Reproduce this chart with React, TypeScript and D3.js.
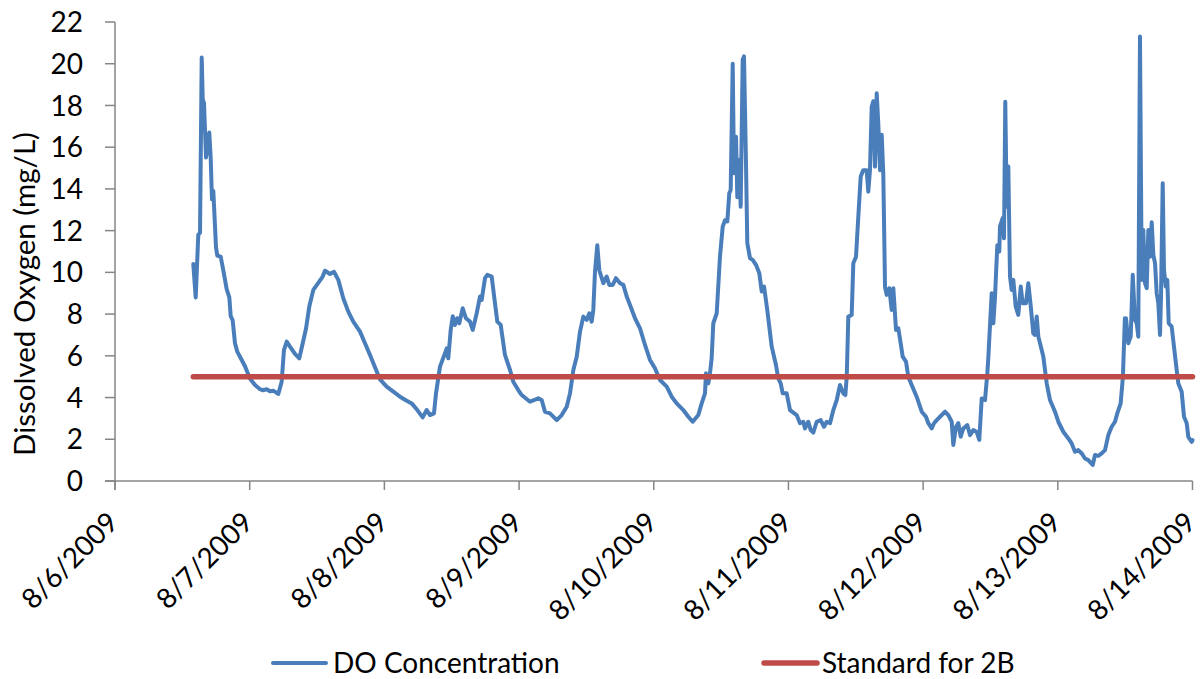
import React from "react";
import * as d3 from "d3";

// Hours since 8/6/2009 00:00 for each DO reading
const doHours = [
  13.95, 14.38, 14.84, 15.15, 15.45, 15.63, 15.86, 16.22, 16.8, 17.05, 17.28, 17.52, 18.0, 18.23, 18.83, 19.3,
  19.9, 20.37, 20.62, 20.97, 21.38, 21.79, 22.58, 23.16, 24.06, 24.95, 25.84, 26.37, 27.03, 27.62, 28.21, 28.69,
  29.1, 29.7, 30.11, 30.6, 31.18, 32.07, 32.84, 33.45, 34.03, 34.62, 35.34, 36.23, 37.01, 37.42, 38.31, 39.02,
  39.79, 40.68, 41.57, 42.46, 43.66, 44.55, 45.44, 46.33, 47.22, 48.41, 49.59, 50.78, 51.98, 52.87, 53.87, 54.83,
  55.54, 56.13, 56.84, 57.2, 57.91, 58.8, 59.11, 59.39, 59.82, 60.18, 60.58, 60.99, 61.35, 61.96, 62.54, 63.26,
  63.74, 64.45, 65.04, 65.34, 65.93, 66.34, 67.12, 67.71, 68.12, 68.73, 69.49, 70.39, 70.97, 71.86, 72.47, 73.95,
  75.43, 76.03, 76.62, 77.51, 78.71, 79.6, 80.49, 81.08, 81.67, 82.27, 82.86, 83.45, 84.05, 84.52, 84.94, 85.23,
  85.53, 85.94, 86.3, 87.01, 87.62, 88.08, 88.69, 89.27, 89.99, 90.58, 91.18, 91.77, 92.66, 93.55, 94.44, 95.33,
  96.22, 97.11, 98.31, 99.2, 100.09, 101.27, 102.16, 102.94, 103.94, 104.54, 105.13, 105.31, 105.72, 106.02, 106.32, 106.61,
  107.22, 107.8, 108.29, 108.7, 109.11, 109.46, 109.71, 110.07, 110.3, 110.66, 110.89, 111.24, 111.49, 111.85, 112.08, 112.44,
  112.67, 113.15, 113.63, 114.22, 114.81, 115.24, 115.65, 116.23, 117.02, 117.78, 118.19, 118.62, 118.98, 119.69, 120.28, 121.47,
  122.06, 122.65, 122.95, 123.54, 123.97, 124.43, 125.04, 125.75, 126.34, 126.82, 127.41, 128.0, 128.6, 129.19, 129.78, 130.14,
  130.39, 130.67, 131.27, 131.56, 132.04, 132.45, 132.88, 133.34, 133.94, 134.23, 134.53, 134.84, 135.12, 135.42, 135.73, 136.01,
  136.32, 136.62, 136.9, 137.21, 137.51, 137.97, 138.4, 138.69, 139.17, 139.58, 140.0, 140.36, 140.95, 141.36, 141.96, 142.85,
  143.75, 144.51, 144.92, 145.53, 145.94, 146.42, 147.01, 147.9, 148.49, 149.09, 149.38, 149.86, 150.27, 150.7, 151.16, 151.87,
  152.35, 152.94, 153.54, 154.01, 154.44, 155.03, 155.44, 155.61, 156.22, 156.51, 156.81, 157.22, 157.57, 157.7, 158.18, 158.41,
  158.64, 158.89, 159.18, 159.48, 159.78, 160.07, 160.5, 160.96, 161.39, 161.74, 162.33, 162.74, 163.17, 163.63, 163.93, 164.24,
  164.53, 165.13, 165.42, 166.02, 166.61, 167.5, 168.09, 168.98, 169.87, 170.47, 171.06, 171.65, 172.26, 172.84, 173.43, 174.22,
  174.63, 175.21, 175.82, 176.41, 177.0, 177.6, 178.19, 178.6, 179.2, 179.6, 179.95, 180.15, 180.56, 180.99, 181.35, 181.75,
  182.06, 182.34, 182.64, 182.95, 183.23, 183.54, 183.84, 184.13, 184.43, 184.73, 185.02, 185.32, 185.62, 185.91, 186.21, 186.39,
  186.69, 186.92, 187.23, 187.51, 187.76, 188.29, 188.7, 189.18, 189.47, 190.07, 190.49, 190.97, 191.25, 191.86, 192.0,
];

// Dissolved oxygen (mg/L)
const doValues = [
  10.4, 8.8, 11.8, 11.9, 20.3, 18.3, 18.1, 15.5, 16.7, 15.5, 13.5, 13.9, 11.2, 10.8, 10.75, 10.1,
  9.2, 8.8, 7.9, 7.7, 6.6, 6.2, 5.8, 5.5, 4.9, 4.6, 4.4, 4.35, 4.4, 4.3, 4.33, 4.25,
  4.17, 4.76, 6.28, 6.68, 6.44, 6.09, 5.88, 6.6, 7.3, 8.36, 9.16, 9.5, 9.8, 10.08, 9.92, 10.03,
  9.64, 8.76, 8.12, 7.64, 7.16, 6.6, 6.04, 5.45, 4.87, 4.52, 4.28, 4.04, 3.85, 3.72, 3.4, 3.05,
  3.4, 3.16, 3.24, 4.2, 5.48, 6.12, 6.36, 5.88, 7.24, 7.9, 7.48, 7.8, 7.56, 8.28, 7.8, 7.64,
  7.24, 8.04, 8.84, 8.68, 9.72, 9.88, 9.8, 8.52, 7.64, 7.48, 6.04, 5.32, 4.76, 4.36, 4.12, 3.8,
  3.96, 3.88, 3.32, 3.24, 2.92, 3.16, 3.56, 4.2, 5.32, 5.96, 7.16, 7.88, 7.72, 8.04, 7.64, 8.2,
  10.03, 11.3, 10.1, 9.48, 9.8, 9.4, 9.4, 9.72, 9.48, 9.4, 8.84, 8.44, 7.8, 7.32, 6.52, 5.8,
  5.4, 4.84, 4.52, 4.04, 3.72, 3.4, 3.08, 2.84, 3.16, 3.72, 4.2, 5.16, 4.68, 5.16, 5.88, 7.56,
  8.04, 10.75, 12.2, 12.5, 12.44, 13.8, 13.95, 20.0, 14.75, 16.5, 13.6, 15.4, 13.15, 20.2, 20.35, 15.2,
  11.4, 10.68, 10.6, 10.36, 9.96, 9.08, 9.32, 8.2, 6.44, 5.56, 4.92, 4.68, 4.2, 4.2, 3.4, 3.16,
  2.77, 2.84, 2.52, 2.84, 2.44, 2.32, 2.84, 2.92, 2.6, 2.84, 2.77, 3.4, 3.88, 4.6, 4.2, 4.12,
  5.0, 7.88, 7.96, 10.44, 10.75, 12.67, 14.6, 14.9, 14.9, 13.87, 14.9, 17.95, 18.2, 15.07, 18.58, 17.14,
  14.9, 16.59, 14.75, 9.3, 8.92, 9.24, 8.2, 9.24, 7.24, 7.32, 6.6, 5.96, 5.72, 5.0, 4.6, 4.04,
  3.32, 3.08, 2.77, 2.52, 2.77, 2.92, 3.08, 3.32, 3.16, 2.84, 1.73, 2.6, 2.77, 2.12, 2.52, 2.68,
  2.2, 2.44, 2.36, 1.97, 3.96, 3.88, 5.16, 5.88, 9.0, 7.56, 8.84, 11.3, 11.0, 12.2, 12.6, 11.63,
  18.18, 13.15, 15.07, 9.8, 9.16, 9.64, 8.36, 7.96, 9.32, 8.52, 8.52, 9.48, 8.4, 7.08, 7.0, 7.88,
  6.92, 6.28, 5.96, 4.68, 3.88, 3.32, 2.84, 2.36, 2.04, 1.8, 1.4, 1.48, 1.32, 1.08, 1.0, 0.77,
  1.25, 1.2, 1.32, 1.48, 2.2, 2.6, 2.84, 3.24, 3.72, 5.0, 7.8, 7.8, 6.6, 6.92, 9.88, 7.72,
  7.56, 6.92, 21.3, 9.64, 12.03, 9.48, 9.24, 12.03, 10.75, 12.4, 10.84, 10.44, 9.0, 8.52, 7.0, 8.84,
  14.27, 10.11, 9.32, 9.64, 7.56, 7.4, 6.44, 5.32, 4.68, 4.28, 3.08, 2.77, 2.12, 1.88, 1.96,
];

const standardValue = 5;
const dayTicks = [
  "8/6/2009", "8/7/2009", "8/8/2009", "8/9/2009", "8/10/2009",
  "8/11/2009", "8/12/2009", "8/13/2009", "8/14/2009",
];
const yTicks = [0, 2, 4, 6, 8, 10, 12, 14, 16, 18, 20, 22];
const seriesNames = ["DO Concentration", "Standard for 2B"];

const W = 1202;
const H = 679;
const FONT = "Lato, 'Open Sans', sans-serif";
const BLUE = "#4A7EBB";
const RED = "#BE4B48";
const AXIS = "#868686";

export default function App() {
  const parse = d3.timeParse("%m/%d/%Y");
  const fmt = d3.timeFormat("%-m/%-d/%Y");
  const tickDates = dayTicks.map((s) => parse(s) as Date);
  const start = tickDates[0];
  const toDate = (h: number) => new Date(start.getTime() + h * 3600 * 1000);

  const x = d3.scaleTime().domain([tickDates[0], tickDates[tickDates.length - 1]]).range([115, 1192.5]);
  const y = d3.scaleLinear().domain([0, 22]).range([481, 22]);

  const pts = doHours.map((h, i) => ({ t: toDate(h), v: doValues[i] }));
  const line = d3
    .line<{ t: Date; v: number }>()
    .x((d) => x(d.t))
    .y((d) => y(d.v));

  const stdPts = [
    { t: toDate(doHours[0]), v: standardValue },
    { t: toDate(doHours[doHours.length - 1]), v: standardValue },
  ];

  const [x0, x1] = x.range();
  const [yb, yt] = y.range();

  return (
    <svg
      width={W}
      height={H}
      style={{ position: "absolute", left: 0, top: 0, background: "#fff" }}
      fontFamily={FONT}
    >
      <rect x={0} y={0} width={W} height={H} fill="#fff" />
      {/* y axis */}
      <line x1={x0} x2={x0} y1={yt} y2={yb + 9} stroke={AXIS} strokeWidth={1.5} />
      {yTicks.map((t) => (
        <g key={"y" + t}>
          <line x1={x0 - 10} x2={x0} y1={y(t)} y2={y(t)} stroke={AXIS} strokeWidth={1.5} />
          <text x={83} y={y(t)} dy="0.36em" textAnchor="end" fontSize={28} fill="#000">
            {t}
          </text>
        </g>
      ))}
      {/* x axis */}
      <line x1={x0 - 10} x2={x1} y1={yb} y2={yb} stroke={AXIS} strokeWidth={1.5} />
      {tickDates.map((d) => (
        <g key={"x" + d.getTime()}>
          <line x1={x(d)} x2={x(d)} y1={yb} y2={yb + 9} stroke={AXIS} strokeWidth={1.5} />
          <text
            transform={`translate(${x(d) + 5},${yb + 43}) rotate(-45)`}
            textAnchor="end"
            fontSize={28}
            fill="#000"
          >
            {fmt(d)}
          </text>
        </g>
      ))}
      {/* y title */}
      <text
        transform={`translate(35,294) rotate(-90)`}
        textAnchor="middle"
        fontSize={29.5}
        fill="#000"
      >
        Dissolved Oxygen (mg/L)
      </text>
      {/* series */}
      <path d={line(pts) || ""} fill="none" stroke={BLUE} strokeWidth={4} strokeLinejoin="round" strokeLinecap="round" />
      <path d={line(stdPts) || ""} fill="none" stroke={RED} strokeWidth={5.5} strokeLinecap="round" />
      {/* legend */}
      <line x1={273} x2={326} y1={663} y2={663} stroke={BLUE} strokeWidth={4} strokeLinecap="round" />
      <text x={333} y={663} dy="0.36em" fontSize={28} fill="#000">
        {seriesNames[0]}
      </text>
      <line x1={764} x2={817} y1={663} y2={663} stroke={RED} strokeWidth={5.5} strokeLinecap="round" />
      <text x={822} y={663} dy="0.36em" fontSize={28} fill="#000">
        {seriesNames[1]}
      </text>
    </svg>
  );
}
